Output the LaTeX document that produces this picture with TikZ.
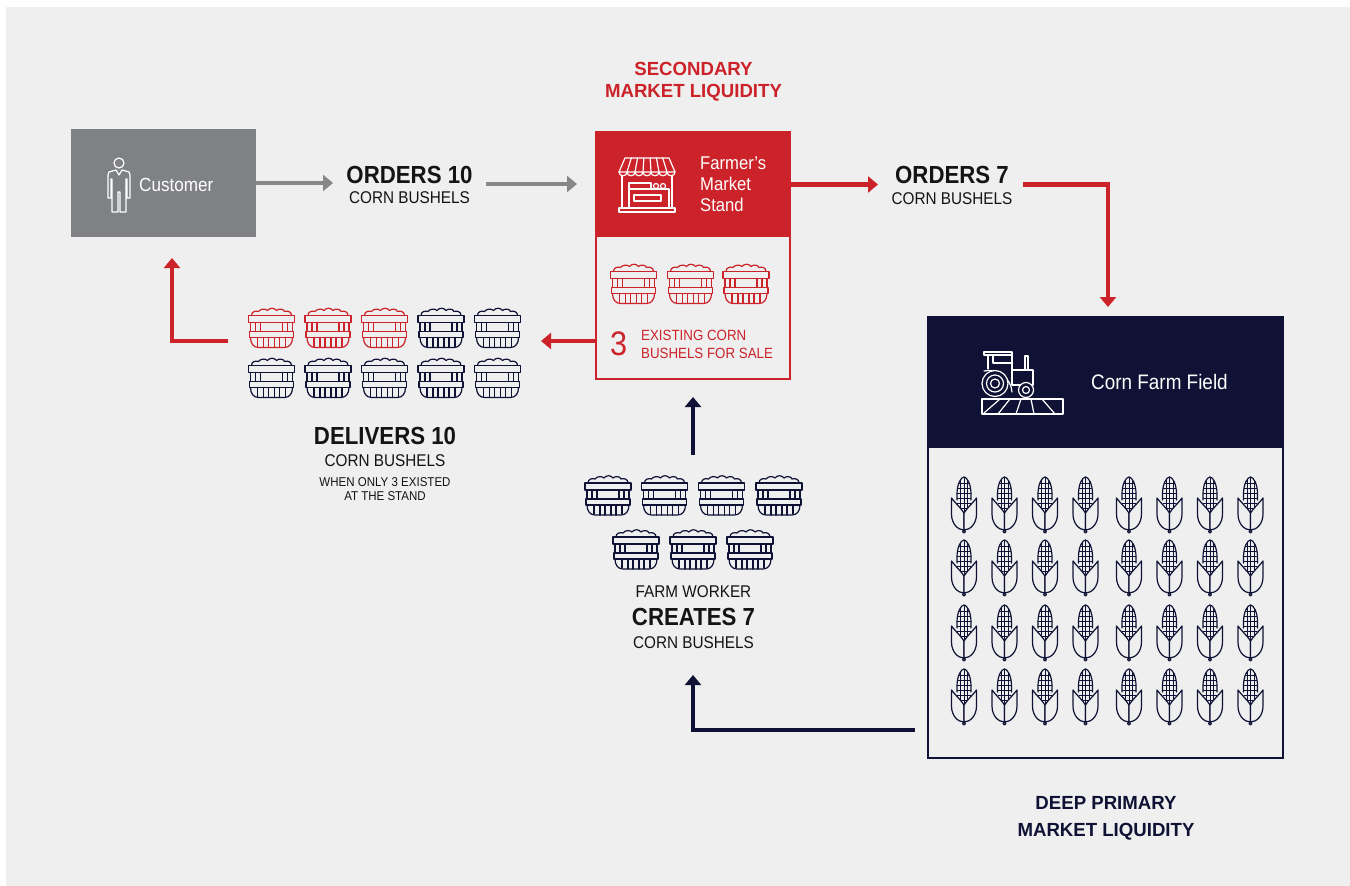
\documentclass[tikz,border=0pt]{standalone}
\usepackage{fontspec}
\setmainfont[FakeStretch=0.9]{Liberation Sans}
\newfontfamily\tagfont[FakeStretch=0.98]{Liberation Sans}
\usetikzlibrary{arrows.meta}

\definecolor{bggray}{HTML}{EFEFEF}
\definecolor{boxgray}{HTML}{808185}
\definecolor{arrgray}{HTML}{878787}
\definecolor{mred}{HTML}{CC2229}
\definecolor{navy}{HTML}{0F1234}
\definecolor{ink}{HTML}{141414}

\newcommand{\bushel}[3]{%
\begin{scope}[shift={(#1,#2)},color=#3,iconline]
 \draw (-20,-12) .. controls (-20,-16) and (-16,-17) .. (-13,-16) .. controls (-11,-19) and (-6,-19) .. (-4,-17) .. controls (-2,-20) and (3,-20) .. (5,-17) .. controls (7,-19) and (12,-19) .. (13,-16) .. controls (16,-17) and (20,-16) .. (20,-12);
 \draw (-23,-12) rectangle (23,-5);
 \draw (-21,-5) -- (-21,4) (21,-5) -- (21,4) (-16,-5) -- (-16,4) (-11,-5) -- (-11,4) (11,-5) -- (11,4) (16,-5) -- (16,4);
 \draw (-22,4) rectangle (22,10);
 \draw (-21,10) .. controls (-21,16) and (-18,20) .. (-13,20) -- (13,20) .. controls (18,20) and (21,16) .. (21,10);
 \draw (-14,10) -- (-14,19) (-8,10) -- (-8,20) (-3,10) -- (-3,20) (3,10) -- (3,20) (8,10) -- (8,20) (14,10) -- (14,19);
\end{scope}}

\newcommand{\corncob}[2]{%
\begin{scope}[shift={(#1,#2)},color=navy,iconline]
 \begin{scope}
  \clip (-7,10) -- (-7,-10) .. controls (-7,-20) and (-3,-27) .. (0,-27) .. controls (3,-27) and (7,-20) .. (7,-10) -- (7,10) -- cycle;
  \foreach \gy in {-21,-16,-11,-6,-1,4} \draw[line width=1pt] (-8,\gy) -- (8,\gy);
  \foreach \gx in {-3.5,0,3.5} \draw[line width=1pt] (\gx,-28) -- (\gx,10);
 \end{scope}
 \draw (-7,-4) -- (-7,-10) .. controls (-7,-20) and (-3,-27) .. (0,-27) .. controls (3,-27) and (7,-20) .. (7,-10) -- (7,-4);
 \draw[fill=bggray] (-12.5,-6) -- (-12.5,10) .. controls (-12.5,20) and (-6,26) .. (0,26) -- (0,9) .. controls (-3,4) and (-8,0) .. (-12.5,-6) -- cycle;
 \draw[fill=bggray] (12.5,-6) -- (12.5,10) .. controls (12.5,20) and (6,26) .. (0,26) -- (0,9) .. controls (3,4) and (8,0) .. (12.5,-6) -- cycle;
 \draw[fill=bggray] (0,27.5) circle (1.5);
\end{scope}}

\begin{document}
\begin{tikzpicture}[x=1pt,y=-1pt,
 iconline/.style={line width=1.2pt,line join=round,line cap=round},
 arr/.style={line width=4.5pt,-{Triangle[width=16pt,length=10pt]}},
 headtxt/.style={anchor=base,inner sep=0pt,text=ink,font=\bfseries\fontsize{24.7}{28}\selectfont},
 subtxt/.style={anchor=base,inner sep=0pt,text=ink,font=\fontsize{17}{20}\selectfont},
 notetxt/.style={anchor=base,inner sep=0pt,text=ink,font=\fontsize{12.8}{14}\selectfont},
 tagtxt/.style={anchor=base,inner sep=0pt,font=\tagfont\bfseries\fontsize{19}{22}\selectfont},
 boxtxt/.style={anchor=base west,inner sep=0pt,text=white,font=\fontsize{19}{21}\selectfont},
 panel/.style={inner sep=0pt,outer sep=0pt}]
 \useasboundingbox (0,0) rectangle (1350,886);
 \fill[white] (0,0) rectangle (1350,886);
 \fill[bggray] (6,7) rectangle (1350,886);

 \node[panel,fill=boxgray,minimum width=185pt,minimum height=108pt] (customer) at (163.5,183) {};
 \node[panel,draw=mred,line width=2pt,minimum width=194pt,minimum height=247pt] (market) at (693,255.5) {};
 \node[panel,fill=mred,minimum width=194pt,minimum height=105pt] (markethead) at (693,184.5) {};
 \node[panel,draw=navy,line width=2.5pt,minimum width=355pt,minimum height=441pt] (farm) at (1105.5,537.5) {};
 \node[panel,fill=navy,minimum width=355pt,minimum height=131pt] (farmhead) at (1105.5,382.5) {};

 \node[boxtxt] (custlbl) at (139,191) {Customer};
 \node[boxtxt,font=\fontsize{18.5}{20}\selectfont] (standa) at (700,169) {Farmer’s};
 \node[boxtxt,font=\fontsize{18.5}{20}\selectfont] (standb) at (700,190) {Market};
 \node[boxtxt,font=\fontsize{18.5}{20}\selectfont] (standc) at (700,211) {Stand};
 \node[boxtxt,font=\fontsize{21}{24}\selectfont] (fieldlbl) at (1091,389) {Corn Farm Field};
 \node[anchor=base west,inner sep=0pt,text=mred,font=\fontsize{34}{36}\selectfont] (three) at (610,355) {3};
 \node[anchor=north west,inner sep=0pt,align=left,text=mred,font=\fontsize{14.8}{17.5}\selectfont] (exist) at (641,330.3) {EXISTING CORN\\BUSHELS FOR SALE};

 \node[tagtxt,text=mred] (second) at (693.5,75) {SECONDARY};
 \node[tagtxt,text=mred] (secondb) at (693.5,97) {MARKET LIQUIDITY};
 \node[tagtxt,text=navy] (deep) at (1106,809) {DEEP PRIMARY};
 \node[tagtxt,text=navy] (deepb) at (1106,836) {MARKET LIQUIDITY};
 \node[headtxt] (ord10) at (409.5,183) {ORDERS 10};
 \node[subtxt] (ord10b) at (409.5,203) {CORN BUSHELS};
 \node[headtxt] (ord7) at (952,183) {ORDERS 7};
 \node[subtxt] (ord7b) at (952,204) {CORN BUSHELS};
 \node[headtxt] (deliv) at (385,444) {DELIVERS 10};
 \node[subtxt] (delivb) at (385,466) {CORN BUSHELS};
 \node[notetxt] (delivc) at (385,486) {WHEN ONLY 3 EXISTED};
 \node[notetxt] (delivd) at (385,500) {AT THE STAND};
 \node[subtxt,font=\fontsize{17}{18}\selectfont] (worker) at (693.5,597) {FARM WORKER};
 \node[headtxt] (creates) at (693.5,625) {CREATES 7};
 \node[subtxt] (createsb) at (693.5,648) {CORN BUSHELS};

 \draw[iconline,white] (119,163) circle (5);
 \draw[iconline,white] (116,170) -- (109,172) -- (108,175) -- (108,198) -- (111,198) -- (111,179) -- (112,179) -- (112,212) -- (118,212) -- (118,192) -- (120,192) -- (120,212) -- (126,212) -- (126,179) -- (127,179) -- (127,198) -- (130,198) -- (130,175) -- (129,172) -- (122,170) -- (119,175) -- cycle;

 \draw[iconline,white] (625,158) -- (669,158) -- (675,172) -- (619,172) -- cycle;
 \foreach \s in {1,...,6} \draw[iconline,white] ({625+\s*44/7},158) -- ({619+\s*8},172);
 \foreach \s in {0,...,6} \draw[iconline,white] ({619+\s*8},172) .. controls ({619+\s*8},177) and ({627+\s*8},177) .. ({627+\s*8},172);
 \draw[iconline,white] (622,176) -- (622,208) (672,176) -- (672,208);
 \draw[iconline,white] (629,189) rectangle (669,208);
 \draw[iconline,white] (634,195) rectangle (661,201);
 \draw[iconline,white] (629,183) rectangle (651,189);
 \draw[iconline,white] (656,186) circle (2.5) (663,186) circle (2.5);
 \draw[iconline,white] (619,208) rectangle (675,212);

 \draw[iconline,white] (984,352) rectangle (1012,355);
 \draw[iconline,white] (988,355) -- (988,369) (1012,355) -- (1012,370) (993,355) -- (993,363) -- (1012,363);
 \draw[iconline,white] (1012,370) rectangle (1033,385);
 \draw[iconline,white] (1025,356) rectangle (1028,370);
 \draw[iconline,white] (984,371) .. controls (998,368) and (1011,378) .. (1012,392);
 \draw[iconline,white,fill=navy] (995,383.5) circle (13);
 \draw[iconline,white] (995,383.5) circle (8.5) (995,383.5) circle (4.5);
 \draw[iconline,white,fill=navy] (1026,390) circle (7.5);
 \draw[iconline,white] (1026,390) circle (3.5);
 \draw[iconline,white] (982,399) rectangle (1063,414);
 \draw[iconline,white] (1000,399) -- (984,413) (1010,399) -- (998,414) (1021,399) -- (1016,414) (1031,399) -- (1034,414) (1042,399) -- (1055,414);

 \bushel{633.5}{283.5}{mred}
 \bushel{690.5}{283.5}{mred}
 \bushel{746}{283.5}{mred}

 \bushel{271.5}{327.5}{mred}
 \bushel{328}{327.5}{mred}
 \bushel{384.5}{327.5}{mred}
 \bushel{441}{327.5}{navy}
 \bushel{497.5}{327.5}{navy}
 \foreach \bx in {271.5,328,384.5,441,497.5} {\bushel{\bx}{377.5}{navy}}

 \foreach \bx in {608,664.5,721.5,779} {\bushel{\bx}{495}{navy}}
 \foreach \bx in {636,693,750} {\bushel{\bx}{549}{navy}}

 \foreach \cy in {504,567,632,696}
  \foreach \cx in {964,1004.5,1045,1085.5,1129,1169.5,1210,1250.5}
   {\corncob{\cx}{\cy}}

 \coordinate (o10in) at (333,183);
 \coordinate (o10out) at (486,184);
 \coordinate (mkin) at (577,184);
 \coordinate (o7in) at (878,184.5);
 \coordinate (o7out) at (1023,184.5);
 \coordinate (farmin) at (1108,307);
 \coordinate (mkout) at (596,341);
 \coordinate (delin) at (541,341);
 \coordinate (delout) at (228,341);
 \coordinate (custin) at (172,258);
 \coordinate (farmout) at (915,730);
 \coordinate (workin) at (693,675);
 \coordinate (workout) at (693,455);
 \coordinate (mkbot) at (693,397);

 \draw[arr,arrgray] (customer.east) -- (o10in);
 \draw[arr,arrgray] (o10out) -- (mkin);
 \draw[arr,mred] (markethead.east) -- (o7in);
 \draw[arr,mred] (o7out) -| (farmin);
 \draw[arr,mred] (mkout) -- (delin);
 \draw[arr,mred] (delout) -| (custin);
 \draw[arr,navy] (farmout) -| (workin);
 \draw[arr,navy] (workout) -- (mkbot);
\end{tikzpicture}
\end{document}
